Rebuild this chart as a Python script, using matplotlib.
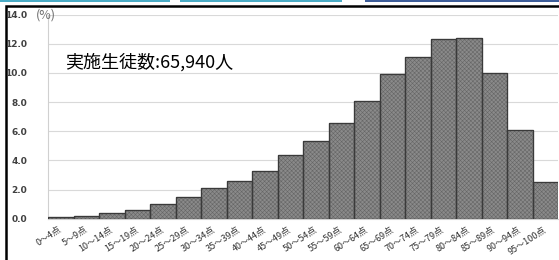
import matplotlib
matplotlib.use('Agg')
import matplotlib.pyplot as plt
import numpy as np

plt.rcParams['font.family'] = ['Noto Sans CJK JP', 'DejaVu Sans']
plt.rcParams['hatch.linewidth'] = 0.4

# score bands and share of students (%)
bands = ['0～4点', '5～9点', '10～14点', '15～19点', '20～24点', '25～29点',
         '30～34点', '35～39点', '40～44点', '45～49点', '50～54点', '55～59点',
         '60～64点', '65～69点', '70～74点', '75～79点', '80～84点', '85～89点',
         '90～94点', '95～100点']
share = [0.1, 0.2, 0.4, 0.6, 1.0, 1.5, 2.1, 2.6, 3.3, 4.4, 5.3, 6.6,
         8.1, 9.9, 11.1, 12.3, 12.4, 10.0, 6.1, 2.5]
yticks = [0, 2, 4, 6, 8, 10, 12, 14]
note = '実施生徒数:65,940人'

W, H = 559, 260
fig = plt.figure(figsize=(W / 100, H / 100), dpi=100)
fig.patch.set_facecolor('white')

# background axes in pixel units for the frame and the tabs above it
bg = fig.add_axes([0, 0, 1, 1], zorder=-1)
bg.set_xlim(0, W)
bg.set_ylim(H, 0)
bg.axis('off')
bg.plot([6, 6, W + 5], [H + 5, 6, 6], color='black', linewidth=1.8,
        clip_on=False, solid_joinstyle='miter')
bg.fill_between([0, 170], 0, 2, color='#4bacc6', linewidth=0)
bg.fill_between([180, 342], 0, 2, color='#4bacc6', linewidth=0)
bg.fill_between([365, W], 0, 2, color='#3e5e9a', linewidth=0)

# chart axes placed by pixel
x0, x1 = 48, 558
y_top, y_bot = 14.7, 218.7
ax = fig.add_axes([x0 / W, 1 - y_bot / H, (x1 - x0) / W, (y_bot - y_top) / H])

x = np.arange(len(bands))
ax.bar(x, share, width=1.0, color='#8a8a8a', edgecolor='#444444',
       linewidth=0.8, zorder=3)
# fine dither texture on the bars
ax.bar(x, share, width=1.0, color='none', edgecolor='#666666',
       linewidth=0, hatch='xxxxxxxx', zorder=3)
ax.bar(x, share, width=1.0, color='none', edgecolor='#3a3a3a',
       linewidth=0.9, zorder=4)

ax.set_xlim(-0.5, len(bands) - 0.5)
ax.set_ylim(0, 14)
ax.set_yticks(yticks)
ax.set_yticklabels(['%.1f' % v for v in yticks], fontsize=6.5,
                   color='#404040', family='DejaVu Sans', fontweight='bold')
ax.tick_params(axis='y', length=0, pad=15)
ax.set_xticks(x)
ax.set_xticklabels(bands, rotation=33, ha='right', va='center',
                   rotation_mode='anchor', fontsize=6.5, color='#303030')
ax.tick_params(axis='x', length=0, pad=7)

ax.grid(axis='y', color='#d9d9d9', linewidth=0.8, zorder=0)
for s in ['top', 'right']:
    ax.spines[s].set_visible(False)
ax.spines['left'].set_color('#d0d0d0')
ax.spines['bottom'].set_color('#d0d0d0')

fig.text(36 / W, 1 - 15 / H, '(%)', fontsize=9, color='#707070',
         ha='left', va='center')
fig.text(65 / W, 1 - 62 / H, note, fontsize=13, color='black',
         ha='left', va='center')

fig.savefig('out.png', dpi=100)
